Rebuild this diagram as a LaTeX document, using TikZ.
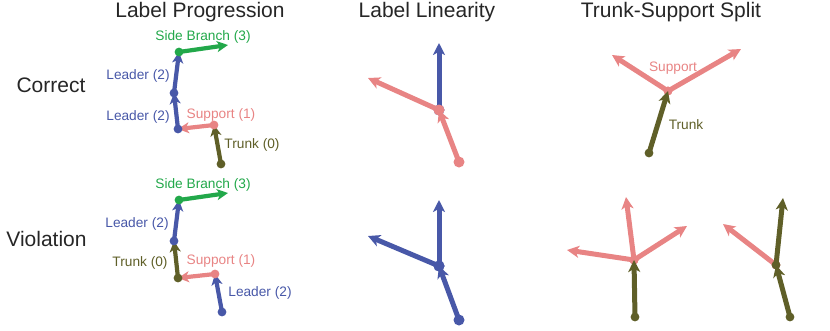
\documentclass[tikz,border=0pt]{standalone}
\usepackage{fontspec}
\setmainfont{Liberation Sans}
\usetikzlibrary{arrows.meta}
\definecolor{cblue}{HTML}{4858A8}
\definecolor{cpink}{HTML}{E88484}
\definecolor{colive}{HTML}{5F5F28}
\definecolor{cgreen}{HTML}{22A84A}
\newcommand{\dotrad}{4.4}
% #1 extra style, #2 colour, #3 start, #4 end
\newcommand{\vecdraw}[4][]{\draw[vecline,#1,#2] (#3) -- (#4); \fill[#2] (#3) circle (\dotrad);}
\begin{document}
\begin{tikzpicture}[x=1pt,y=-1pt,
  vecline/.style={line width=4.2pt,-{Stealth[length=11pt,width=11pt,inset=3pt]}},
  thick vec/.style={line width=5pt,-{Stealth[length=12pt,width=12pt,inset=3.3pt]}},
  title/.style={anchor=base,inner sep=0pt,font=\fontsize{21}{24}\selectfont,text=black!85},
  rowlab/.style={anchor=base,inner sep=0pt,font=\fontsize{21}{24}\selectfont,text=black!85},
  lab/.style={anchor=base,inner sep=0pt,font=\fontsize{13.7}{16}\selectfont}]
\useasboundingbox (0,0) rectangle (830,330);
% titles
\node[title] (t1) at (200,17.5) {Label Progression};
\node[title] (t2) at (427,17.5) {Label Linearity};
\node[title] (t3) at (671,17.5) {Trunk-Support Split};
\node[rowlab] (r1) at (51,92.5) {Correct};
\node[rowlab] (r2) at (46.5,246.5) {Violation};
% Panel 1 correct
\coordinate (A0) at (221,164);
\coordinate (A1) at (214,125);
\coordinate (A2) at (178,129);
\coordinate (A3) at (174,93);
\coordinate (A4) at (179,52);
\coordinate (A5) at (228,45);
\vecdraw{colive}{A0}{A1}
\vecdraw{cpink}{A1}{A2}
\vecdraw{cblue}{A2}{A3}
\vecdraw{cblue}{A3}{A4}
\vecdraw{cgreen}{A4}{A5}
\node[lab,text=cgreen] (la1) at (203,40) {Side Branch (3)};
\node[lab,text=cblue] (la2) at (138,79) {Leader (2)};
\node[lab,text=cblue] (la3) at (138,120) {Leader (2)};
\node[lab,text=cpink] (la4) at (221,118) {Support (1)};
\node[lab,text=colive] (la5) at (252,148) {Trunk (0)};
% Panel 1 violation
\coordinate (B0) at (222,312);
\coordinate (B1) at (215,274);
\coordinate (B2) at (178,278);
\coordinate (B3) at (174,241);
\coordinate (B4) at (179,200);
\coordinate (B5) at (228,193);
\vecdraw{cblue}{B0}{B1}
\vecdraw{cpink}{B1}{B2}
\vecdraw{colive}{B2}{B3}
\vecdraw{cblue}{B3}{B4}
\vecdraw{cgreen}{B4}{B5}
\node[lab,text=cgreen] (lb1) at (203,188) {Side Branch (3)};
\node[lab,text=cblue] (lb2) at (137,227) {Leader (2)};
\node[lab,text=colive] (lb3) at (140,266) {Trunk (0)};
\node[lab,text=cpink] (lb4) at (221,264) {Support (1)};
\node[lab,text=cblue] (lb5) at (260,296) {Leader (2)};
% Panel 2
\renewcommand{\dotrad}{5.5}
\coordinate (C0) at (459,162);
\coordinate (C1) at (439,110);
\coordinate (C2) at (439,43);
\coordinate (C3) at (368,78);
\vecdraw[thick vec]{cblue}{C1}{C2}
\vecdraw[thick vec]{cpink}{C0}{C1}
\vecdraw[thick vec]{cpink}{C1}{C3}
\coordinate (D0) at (459,320);
\coordinate (D1) at (439,266);
\coordinate (D2) at (439,200);
\coordinate (D3) at (368,236);
\vecdraw[thick vec]{cblue}{D1}{D2}
\vecdraw[thick vec]{cblue}{D0}{D1}
\vecdraw[thick vec]{cblue}{D1}{D3}
% Panel 3 correct
\renewcommand{\dotrad}{4.4}
\coordinate (E0) at (649,153);
\coordinate (E1) at (668,91);
\coordinate (E2) at (612,55);
\coordinate (E3) at (741,49);
\vecdraw[thick vec]{cpink}{E1}{E2}
\vecdraw[thick vec]{cpink}{E1}{E3}
\vecdraw[thick vec]{colive}{E0}{E1}
\node[lab,text=cpink] (le1) at (673,71) {Support};
\node[lab,text=colive] (le2) at (686,129) {Trunk};
% Panel 3 violation left
\coordinate (F0) at (635,317);
\coordinate (F1) at (634,260);
\coordinate (F2) at (626,197);
\coordinate (F3) at (567,250);
\coordinate (F4) at (687,226);
\vecdraw[thick vec]{cpink}{F1}{F2}
\vecdraw[thick vec]{cpink}{F1}{F3}
\vecdraw[thick vec]{cpink}{F1}{F4}
\vecdraw[thick vec]{colive}{F0}{F1}
% Panel 3 violation right
\coordinate (G0) at (790,317);
\coordinate (G1) at (776,265);
\coordinate (G2) at (783,198);
\coordinate (G3) at (723,224);
\vecdraw[thick vec]{cpink}{G1}{G3}
\vecdraw[thick vec]{colive}{G0}{G1}
\vecdraw[thick vec]{colive}{G1}{G2}
\end{tikzpicture}
\end{document}
